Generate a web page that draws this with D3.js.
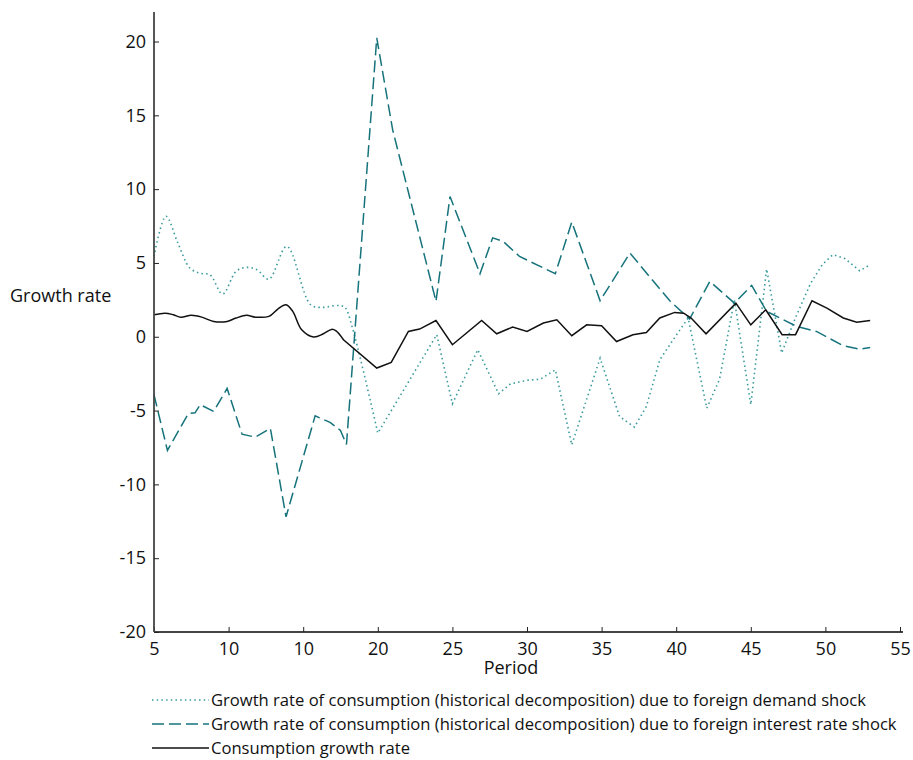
<!DOCTYPE html>
<html>
<head>
<meta charset="utf-8">
<script src="https://d3js.org/d3.v7.min.js"></script>
<style>
  body { margin: 0; background: #fff; }
  svg { font-family: "Open Sans", sans-serif; }
</style>
</head>
<body>
<svg width="913" height="760"></svg>
<script>
// x ticks (the third label really reads "10" in the original)
var xTicks = [5, 10, 15, 20, 25, 30, 35, 40, 45, 50, 55];
var xTickLabels = ["5", "10", "10", "20", "25", "30", "35", "40", "45", "50", "55"];
var yTicks = [-20, -15, -10, -5, 0, 5, 10, 15, 20];

// foreign demand shock (dotted)
var demandPeriod = [5, 5.8, 6.6, 7.4, 8.1, 8.75, 9.6, 10.5, 11.2, 11.9, 12.7, 13.9, 15.5, 16.35, 17.0, 17.5, 17.8, 18.3, 20.0,
  23.95, 25.0, 26.7, 28.1, 28.9, 30.0, 30.9, 31.9, 33.0, 34.9, 36.2, 37.2, 38.0, 38.9, 39.8, 40.8, 42.05, 42.9, 43.9,
  45.0, 46.06, 47.07, 48.0, 49.0, 49.8, 50.5, 51.3, 52.3, 53.0];
var demandValue = [5.44, 8.16, 6.35, 4.66, 4.3, 4.2, 2.9, 4.43, 4.7, 4.54, 3.9, 6.12, 2.17, 1.99, 2.1, 2.1, 2.0, 0.6, -6.53,
  0.14, -4.54, -0.88, -3.86, -3.19, -2.95, -2.87, -2.24, -7.32, -1.45, -5.4, -6.12, -4.72, -1.56, -0.2, 1.27, -4.84, -2.9, 2.5,
  -4.6, 4.59, -1.1, 1.3, 3.6, 4.9, 5.56, 5.3, 4.47, 4.88];

// foreign interest rate shock (dashed)
var interestPeriod = [5, 5.9, 7.3, 7.75, 8.1, 9, 9.9, 10.9, 11.8, 12.8, 13.85, 15.8, 16.8, 17.5, 17.9, 19.93, 21, 23.9,
  24.84, 26.85, 27.7, 28.4, 29.5, 31.9, 33, 34.9, 36.9, 38.2, 39.6, 40.9, 42.25, 43.9, 45.06, 46.06, 48.08, 49.4,
  51.2, 52.3, 53.0];
var interestValue = [-3.93, -7.7, -5.2, -5.15, -4.6, -5.06, -3.5, -6.6, -6.8, -6.2, -12.2, -5.36, -5.8, -6.35, -7.3, 20.25, 14.0, 2.4,
  9.5, 4.27, 6.7, 6.46, 5.44, 4.27, 7.77, 2.44, 5.67, 4.09, 2.4, 1.2, 3.75, 2.28, 3.48, 1.72, 0.7, 0.36,
  -0.61, -0.84, -0.72];

// consumption growth rate (solid)
var consPeriod = [5, 5.74, 6.3, 6.8, 7.5, 8.2, 9.0, 9.9, 10.5, 11.2, 11.8, 12.7, 13.3, 13.85, 14.3, 14.9, 15.7, 16.35, 16.9,
  17.2, 17.7, 19.93, 20.9, 22.05, 22.8, 23.9, 25.0, 26.96, 27.97, 29.04, 30.0, 31.1, 32.0, 33.0, 34.0, 35.0, 36.0,
  37.1, 38.0, 38.9, 39.9, 40.5, 41.0, 42.0, 44.0, 45.0, 46.0, 47.1, 48.0, 49.1, 50.1, 51.2, 52.1, 53.0];
var consValue = [1.49, 1.6, 1.49, 1.33, 1.45, 1.33, 1.04, 1.04, 1.27, 1.45, 1.33, 1.38, 1.88, 2.17, 1.72, 0.47, -0.02, 0.2, 0.5,
  0.4, -0.2, -2.12, -1.74, 0.36, 0.52, 1.1, -0.54, 1.1, 0.2, 0.66, 0.36, 0.93, 1.15, 0.07, 0.81, 0.75, -0.32,
  0.14, 0.29, 1.27, 1.65, 1.6, 1.27, 0.2, 2.28, 0.81, 1.83, 0.14, 0.14, 2.44, 1.94, 1.27, 0.99, 1.1];

var legendLabels = [
  "Growth rate of consumption (historical decomposition) due to foreign demand shock",
  "Growth rate of consumption (historical decomposition) due to foreign interest rate shock",
  "Consumption growth rate"
];

var svg = d3.select("svg");
var plotLeft = 154, plotRight = 900, plotTop = 12, plotBottom = 632;

var x = d3.scaleLinear().domain([5, 55]).range([plotLeft, plotRight]);
var y = d3.scaleLinear().domain([-20, 22]).range([plotBottom, plotTop]);

function zip(px, py) {
  return px.map(function(p, i) { return [p, py[i]]; });
}

// smoothUntil: the early part of the curve is smooth in the original, the rest is straight segments
var series = [
  { pts: zip(demandPeriod, demandValue), color: "#3a9a9c", dash: "1.5,3.2", width: 1.6, smoothUntil: 20 },
  { pts: zip(interestPeriod, interestValue), color: "#16737c", dash: "12,5", width: 1.5, smoothUntil: 0 },
  { pts: zip(consPeriod, consValue), color: "#111", dash: null, width: 1.5, smoothUntil: 17.7 }
];

function pathFor(pts, curve) {
  return d3.line()
    .curve(curve)
    .x(function(d) { return x(d[0]); })
    .y(function(d) { return y(d[1]); })(pts);
}

series.forEach(function(s) {
  var early = s.pts.filter(function(d) { return d[0] <= s.smoothUntil; });
  var late = s.pts.filter(function(d) { return d[0] >= s.smoothUntil; });
  var d = "";
  if (early.length > 1) d += pathFor(early, d3.curveCatmullRom.alpha(0.5));
  if (late.length > 1) d += (d ? "L" + pathFor(late, d3.curveLinear).slice(1) : pathFor(late, d3.curveLinear));
  svg.append("path")
    .attr("d", d)
    .attr("fill", "none")
    .attr("stroke", s.color)
    .attr("stroke-width", s.width)
    .attr("stroke-dasharray", s.dash);
});

// axes, ticks pointing inward
var gx = svg.append("g")
  .attr("transform", "translate(0," + plotBottom + ")")
  .call(d3.axisBottom(x).tickValues(xTicks)
    .tickFormat(function(d, i) { return xTickLabels[i]; })
    .tickSizeInner(-5).tickSizeOuter(0).tickPadding(10));

var gy = svg.append("g")
  .attr("transform", "translate(" + plotLeft + ",0)")
  .call(d3.axisLeft(y).tickValues(yTicks)
    .tickFormat(function(d) { return String(d); })
    .tickSizeInner(-5).tickSizeOuter(0).tickPadding(8));

[gx, gy].forEach(function(g) {
  g.select(".domain").attr("stroke", "#444").attr("stroke-width", 1.8);
  g.selectAll(".tick line").attr("stroke", "#222");
  g.selectAll(".tick text")
    .attr("fill", "#111")
    .style("font-size", "18px")
    .style("font-family", "'Open Sans', sans-serif");
});
gy.select(".domain").attr("d", "M0," + plotTop + "V" + plotBottom);
gx.select(".domain").attr("d", "M" + plotLeft + ",0H" + (plotRight + 3));

svg.append("text")
  .attr("x", 10).attr("y", 302)
  .style("font-size", "18px").attr("fill", "#111")
  .text("Growth rate");

svg.append("text")
  .attr("x", 511).attr("y", 674)
  .attr("text-anchor", "middle")
  .style("font-size", "18px").attr("fill", "#111")
  .text("Period");

// legend
var leg = svg.append("g");
series.forEach(function(s, i) {
  var ly = 700 + i * 24;
  leg.append("line")
    .attr("x1", 152).attr("x2", 209)
    .attr("y1", ly).attr("y2", ly)
    .attr("stroke", s.color)
    .attr("stroke-width", s.width)
    .attr("stroke-dasharray", s.dash);
  leg.append("text")
    .attr("x", 211).attr("y", ly + 6)
    .style("font-size", "16.6px").attr("fill", "#111")
    .text(legendLabels[i]);
});
</script>
</body>
</html>
